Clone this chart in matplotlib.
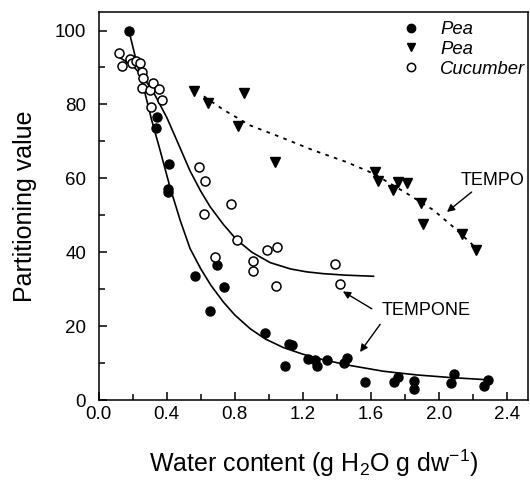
import numpy as np
import matplotlib
matplotlib.use('Agg')
import matplotlib.pyplot as plt
from matplotlib.ticker import MultipleLocator
from matplotlib.lines import Line2D

plt.rcParams['font.family'] = ['Liberation Sans', 'DejaVu Sans']
plt.rcParams['mathtext.fontset'] = 'custom'
plt.rcParams['mathtext.rm'] = 'Liberation Sans'
plt.rcParams['mathtext.default'] = 'regular'

# Pea, TEMPONE (filled circles)
pea_x = [0.178, 0.34, 0.337, 0.413, 0.407, 0.405, 0.567, 0.653, 0.698, 0.735,
         0.975, 1.092, 1.115, 1.135, 1.23, 1.27, 1.281, 1.34, 1.438, 1.461,
         1.566, 1.737, 1.757, 1.849, 1.853, 2.068, 2.089, 2.264, 2.283]
pea_y = [100.0, 76.7, 73.6, 63.9, 57.2, 56.4, 33.5, 24.2, 36.6, 30.5,
         18.2, 9.2, 15.1, 14.8, 11.1, 10.9, 9.1, 10.8, 10.0, 11.3,
         4.8, 5.0, 6.2, 5.1, 3.1, 4.6, 7.0, 3.8, 5.5]

# Pea, TEMPO (triangles)
tempo_x = [0.559, 0.641, 0.855, 0.816, 1.038, 1.62, 1.638, 1.727, 1.76, 1.813,
           1.892, 1.907, 2.132, 2.213]
tempo_y = [83.6, 80.5, 83.2, 74.1, 64.5, 61.8, 59.3, 56.8, 59.1, 58.7,
           53.2, 47.6, 44.9, 40.6]

# Cucumber, TEMPONE (open circles)
cuc_x = [0.118, 0.135, 0.186, 0.196, 0.217, 0.245, 0.254, 0.263, 0.256, 0.299,
         0.32, 0.352, 0.372, 0.305, 0.589, 0.624, 0.621, 0.777, 0.812, 0.684,
         0.909, 0.909, 0.988, 1.05, 1.04, 1.385, 1.42]
cuc_y = [93.9, 90.3, 92.4, 91.2, 91.8, 91.2, 88.9, 87.1, 84.5, 84.0,
         85.7, 84.2, 81.3, 79.4, 63.0, 59.3, 50.3, 53.1, 43.3, 38.6,
         37.7, 35.0, 40.5, 41.4, 30.9, 36.9, 31.4]

# fitted curves
pea_fit_x = [0.178, 0.22, 0.263, 0.312, 0.361, 0.42, 0.48, 0.537, 0.60, 0.66,
             0.733, 0.80, 0.89, 0.98, 1.085, 1.2, 1.32, 1.477, 1.672, 1.868,
             2.064, 2.28]
pea_fit_y = [100.0, 92.0, 84.8, 75.7, 67.6, 57.5, 48.5, 41.0, 35.5, 31.0,
             26.5, 23.0, 19.3, 16.5, 14.2, 12.4, 10.9, 9.35, 7.8, 6.8,
             6.1, 5.5]

cuc_fit_x = [0.13, 0.2, 0.26, 0.32, 0.4, 0.459, 0.537, 0.6, 0.655, 0.733,
             0.81, 0.9, 1.007, 1.125, 1.22, 1.32, 1.45, 1.614]
cuc_fit_y = [92.5, 90.5, 87.5, 83.5, 76.5, 70.3, 62.0, 56.5, 52.3, 47.5,
             43.4, 40.0, 37.2, 35.5, 34.7, 34.2, 33.8, 33.5]

tempo_fit_x = [0.618, 0.735, 0.891, 1.066, 1.26, 1.456, 1.613, 1.81, 1.966,
               2.083, 2.21]
tempo_fit_y = [82.2, 78.5, 74.3, 71.2, 67.6, 64.4, 61.3, 55.9, 51.4, 46.8,
               41.4]

fig = plt.figure(figsize=(5.3, 4.82), dpi=100)
ax = fig.add_axes([0.186, 0.170, 0.810, 0.805])

ax.plot(pea_fit_x, pea_fit_y, color='black', lw=1.2)
ax.plot(cuc_fit_x, cuc_fit_y, color='black', lw=1.2)
ax.plot(tempo_fit_x, tempo_fit_y, color='black', lw=1.3, linestyle=(0, (2, 3)))

ms = 6.5
ax.plot(pea_x, pea_y, 'o', color='black', ms=ms, linestyle='none')
ax.plot(tempo_x, tempo_y, 'v', color='black', ms=ms, linestyle='none')
ax.plot(cuc_x, cuc_y, 'o', mfc='white', mec='black', mew=1.1, ms=ms, linestyle='none')

ax.set_xlim(0, 2.52)
ax.set_ylim(0, 105)
ax.xaxis.set_major_locator(MultipleLocator(0.4))
ax.xaxis.set_minor_locator(MultipleLocator(0.2))
ax.yaxis.set_major_locator(MultipleLocator(20))
ax.yaxis.set_minor_locator(MultipleLocator(10))
ax.xaxis.set_major_formatter(plt.FuncFormatter(lambda v, p: f'{v:.1f}'))
ax.tick_params(which='both', direction='in', width=1.1, labelsize=13.5)
ax.tick_params(axis='y', which='major', pad=9)
ax.tick_params(axis='x', which='major', pad=4)
ax.tick_params(which='major', length=6)
ax.tick_params(which='minor', length=4)
for s in ax.spines.values():
    s.set_linewidth(1.1)

ax.set_xlabel('Water content (g H$_2$O g dw$^{-1}$)', fontsize=18, labelpad=18)
ax.set_ylabel('Partitioning value', fontsize=18, labelpad=13)

handles = [
    Line2D([], [], marker='o', color='black', ls='none', ms=6),
    Line2D([], [], marker='v', color='black', ls='none', ms=6),
    Line2D([], [], marker='o', mfc='white', mec='black', mew=1.1, ls='none', ms=6),
]
leg = ax.legend(handles, ['Pea', 'Pea', 'Cucumber'], loc='upper left',
                bbox_to_anchor=(0.68, 1.005), frameon=False, handlelength=1.0,
                handletextpad=1.1, labelspacing=0.15, borderaxespad=0.2,
                prop={'style': 'italic', 'size': 13.3})

arrow = dict(arrowstyle='-|>', color='black', lw=1.0, mutation_scale=11, shrinkA=0, shrinkB=0)
ax.text(2.31, 59.5, 'TEMPO', fontsize=13, ha='center', va='center')
ax.annotate('', xy=(2.045, 50.9), xytext=(2.19, 56.3), arrowprops=arrow)
ax.text(1.923, 24.3, 'TEMPONE', fontsize=13, ha='center', va='center')
ax.annotate('', xy=(1.434, 29.4), xytext=(1.604, 24.7), arrowprops=arrow)
ax.annotate('', xy=(1.535, 13.0), xytext=(1.653, 20.5), arrowprops=arrow)

fig.savefig('out.png', dpi=100)
